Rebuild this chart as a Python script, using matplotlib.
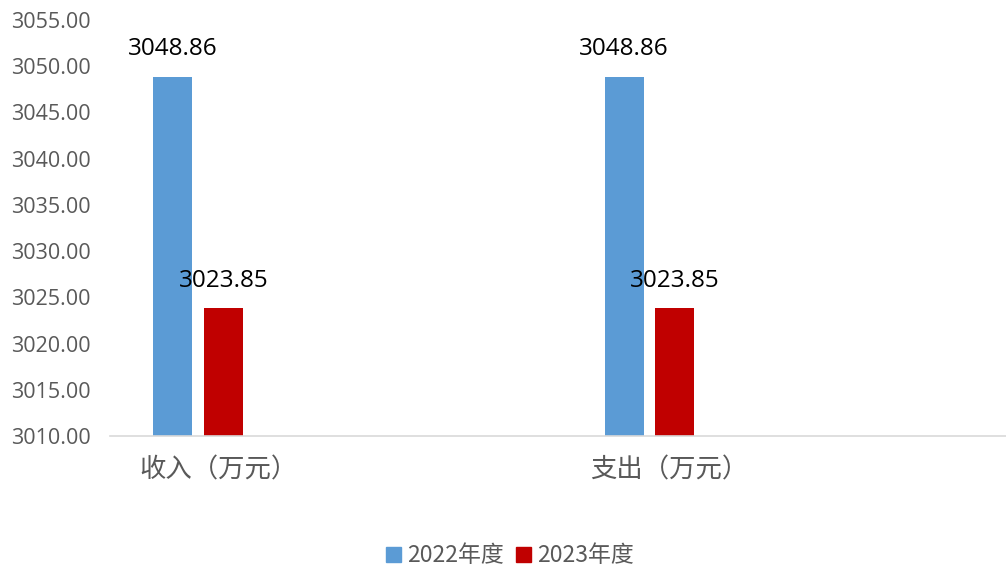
import matplotlib
matplotlib.use("Agg")
import matplotlib.pyplot as plt
import matplotlib.transforms as mtransforms
from matplotlib.patches import Patch

plt.rcParams['font.family'] = ['Noto Sans CJK SC', 'DejaVu Sans']

categories = ["收入（万元）", "支出（万元）"]
series_names = ["2022年度", "2023年度"]
values_2022 = [3048.86, 3048.86]
values_2023 = [3023.85, 3023.85]
colors = ["#5b9bd5", "#c00000"]
yticks = [3010, 3015, 3020, 3025, 3030, 3035, 3040, 3045, 3050, 3055]

W, H = 1006, 569
fig = plt.figure(figsize=(W / 100, H / 100), dpi=100)
ax = fig.add_axes([110 / W, (H - 436) / H, 896 / W, 416 / H])

x = list(range(len(categories)))
bw = 0.0865
off = 0.056
b1 = ax.bar([i - off for i in x], values_2022, width=bw, color=colors[0], bottom=0)
b2 = ax.bar([i + off for i in x], values_2023, width=bw, color=colors[1], bottom=0)

ax.set_ylim(3010, 3055)
ax.set_xlim(-0.195, 1.79)
ax.set_yticks(yticks)
ax.set_yticklabels([f"{v:.2f}" for v in yticks], fontsize=15.5, color="#595959",
                   family=['Open Sans', 'DejaVu Sans'])
ax.set_xticks(x)
ax.set_xticklabels(categories, fontsize=19, color="#595959")
ax.tick_params(axis='both', length=0)
ax.tick_params(axis='x', pad=15)
ax.tick_params(axis='y', pad=14)
shift = mtransforms.ScaledTranslation(20 / 100, 0, fig.dpi_scale_trans)
for lbl in ax.get_xticklabels():
    lbl.set_transform(lbl.get_transform() + shift)

for s in ["top", "right", "left"]:
    ax.spines[s].set_visible(False)
ax.spines["bottom"].set_color("#d9d9d9")
ax.spines["bottom"].set_linewidth(1.2)

for bars, vals in [(b1, values_2022), (b2, values_2023)]:
    for rect, v in zip(bars, vals):
        ax.annotate(f"{v:.2f}", (rect.get_x() + rect.get_width() / 2, v),
                    xytext=(0, 11), textcoords="offset points",
                    ha="center", va="bottom", fontsize=17.5, color="#000000",
                    family=['Open Sans', 'DejaVu Sans'])

handles = [Patch(color=c) for c in colors]
leg = fig.legend(handles, series_names, loc="center", bbox_to_anchor=(0.507, 13 / H),
                 ncol=2, frameon=False, fontsize=16.5, handlelength=0.65, handleheight=0.65,
                 columnspacing=0.5, handletextpad=0.3)
for t in leg.get_texts():
    t.set_color("#595959")

fig.savefig("out.png", dpi=100)
